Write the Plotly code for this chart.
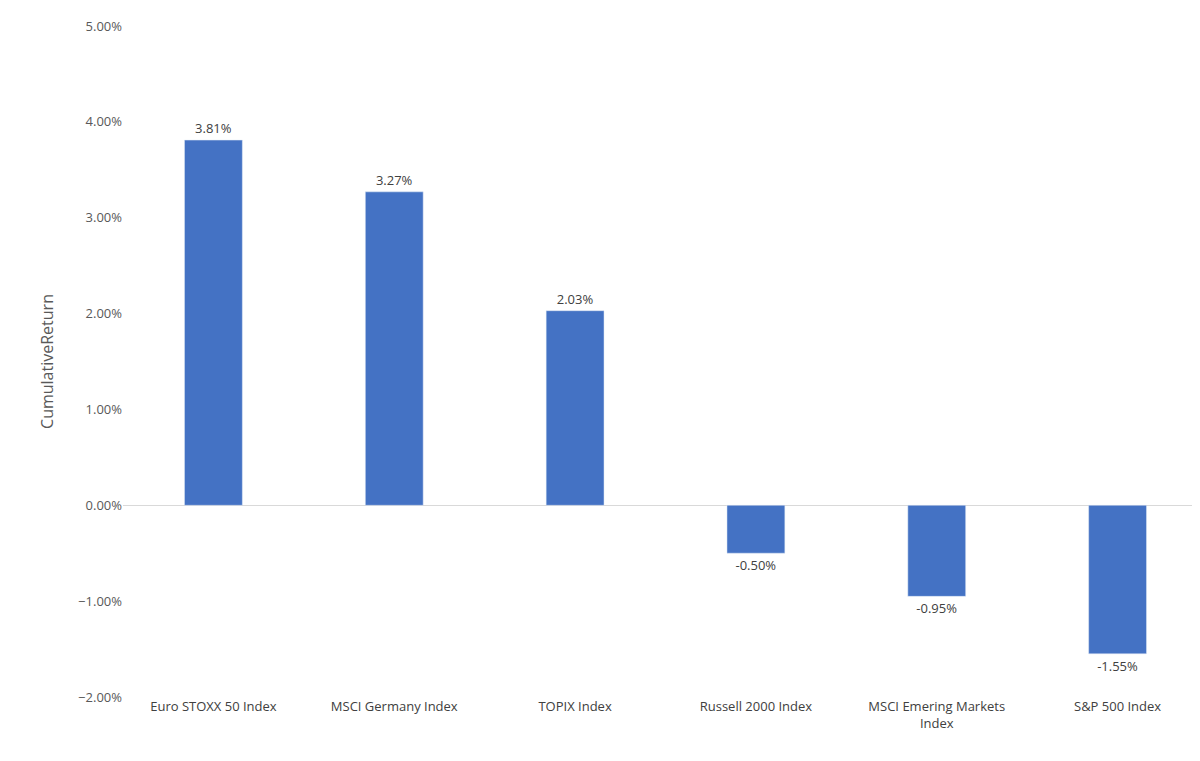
import plotly.graph_objects as go

#data
indices = ['Euro STOXX 50 Index', 'MSCI Germany Index', 'TOPIX Index',
           'Russell 2000 Index', 'MSCI Emering Markets<br>Index', 'S&P 500 Index']
returns = [3.81, 3.27, 2.03, -0.50, -0.95, -1.55]

fig = go.Figure(go.Bar(x=indices, y=[r / 100 for r in returns],
                       marker_color='#4472C4', width=0.32,
                       text=['{:.2f}%'.format(r) for r in returns],
                       textposition='outside', cliponaxis=False,
                       textfont=dict(size=13, color='#404040')))

fig.update_layout(width=1200, height=761, plot_bgcolor='white', paper_bgcolor='white',
                  margin=dict(l=115, r=0, t=18, b=72),
                  font=dict(family='Open Sans', size=13, color='#595959'),
                  showlegend=False)
fig.update_yaxes(range=[-0.02, 0.05], dtick=0.01, tickformat='.2%', showgrid=False,
                 zeroline=True, zerolinecolor='#D9D9D9', zerolinewidth=1,
                 title=dict(text='CumulativeReturn', standoff=20), ticks='', ticklen=0)
fig.update_xaxes(showgrid=False, showline=False, ticks='', tickfont=dict(color='#404040'))

fig.write_html("out.html")
